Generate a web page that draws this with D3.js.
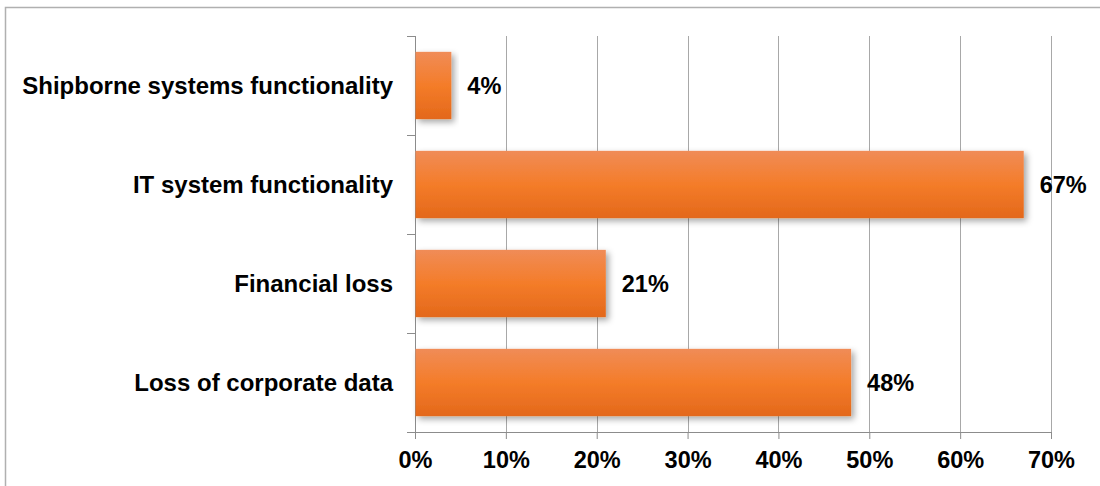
<!DOCTYPE html>
<meta charset="utf-8">
<style>
  body { margin: 0; background: #fff; }
  text { font-family: "Liberation Sans", Arial, sans-serif; font-weight: bold; fill: #000; }
</style>
<script src="https://d3js.org/d3.v7.min.js"></script>
<div id="chart"></div>
<script>

// data (top to bottom as drawn)
var categories = ["Shipborne systems functionality", "IT system functionality", "Financial loss", "Loss of corporate data"];
var values = [4, 67, 21, 48];
var tickValues = [0, 10, 20, 30, 40, 50, 60, 70];

var W = 1100, H = 486;
var margin = {top: 36, right: 49, bottom: 54, left: 415},
    width = W - margin.left - margin.right,
    height = H - margin.top - margin.bottom;

var svg = d3.select("#chart")
  .append("svg")
    .attr("width", W)
    .attr("height", H);

var defs = svg.append("defs");

// bar gradient, lighter on top
var grad = defs.append("linearGradient")
    .attr("id", "barGrad")
    .attr("x1", 0).attr("y1", 0).attr("x2", 0).attr("y2", 1);
grad.append("stop").attr("offset", "0%").attr("stop-color", "#f08c57");
grad.append("stop").attr("offset", "50%").attr("stop-color", "#f47c29");
grad.append("stop").attr("offset", "100%").attr("stop-color", "#e3681b");

// soft drop shadow
var shadow = defs.append("filter")
    .attr("id", "shadow")
    .attr("x", "-10%").attr("y", "-20%")
    .attr("width", "130%").attr("height", "150%");
shadow.append("feDropShadow")
    .attr("dx", 3).attr("dy", 3)
    .attr("stdDeviation", 3)
    .attr("flood-color", "#000")
    .attr("flood-opacity", 0.35);

// outer frame (only left and top visible)
svg.append("path")
    .attr("d", "M5.5," + H + "V7.5H" + W)
    .attr("fill", "none")
    .attr("stroke", "#b0b0b0")
    .attr("stroke-width", 1.5);

var g = svg.append("g")
    .attr("transform", "translate(" + margin.left + "," + margin.top + ")");

var x = d3.scaleLinear()
    .domain([0, 70])
    .range([0, width]);

var y = d3.scaleBand()
    .domain(categories)
    .range([0, height])
    .paddingInner(0.32)
    .paddingOuter(0.16);

// vertical gridlines
g.append("g")
  .selectAll("line")
  .data(tickValues.slice(1))
  .enter()
  .append("line")
    .attr("x1", function(d) { return Math.round(x(d)) + 0.5; })
    .attr("x2", function(d) { return Math.round(x(d)) + 0.5; })
    .attr("y1", 0)
    .attr("y2", height)
    .attr("stroke", "#a8a8a8")
    .attr("stroke-width", 1);

// x axis
var xAxis = g.append("g")
    .attr("transform", "translate(0," + height + ")")
    .call(d3.axisBottom(x)
      .tickValues(tickValues)
      .tickSize(7)
      .tickPadding(12)
      .tickFormat(function(d) { return d + "%"; }));
xAxis.select(".domain")
    .attr("d", "M-8,0.5H" + width);
xAxis.selectAll("path, line").attr("stroke", "#8c8c8c");
xAxis.selectAll("text")
    .style("font-size", "23.5px")
    .attr("fill", "#000");

// y axis: category boundaries as ticks
var bounds = d3.range(categories.length + 1).map(function(i) { return i * height / categories.length; });
var yAxis = g.append("g");
yAxis.append("line")
    .attr("x1", 0.5).attr("x2", 0.5)
    .attr("y1", 0).attr("y2", height)
    .attr("stroke", "#8c8c8c");
yAxis.selectAll(".bt")
  .data(bounds)
  .enter()
  .append("line")
    .attr("class", "bt")
    .attr("x1", -8).attr("x2", 0)
    .attr("y1", function(d) { return Math.round(d) + 0.5; })
    .attr("y2", function(d) { return Math.round(d) + 0.5; })
    .attr("stroke", "#8c8c8c");

// category labels
g.selectAll(".cat")
  .data(categories)
  .enter()
  .append("text")
    .attr("class", "cat")
    .attr("x", -22)
    .attr("y", function(d) { return y(d) + y.bandwidth() / 2; })
    .attr("dy", "0.35em")
    .attr("text-anchor", "end")
    .style("font-size", "24px")
    .text(function(d) { return d; });

// bars
g.selectAll(".bar")
  .data(values)
  .enter()
  .append("rect")
    .attr("class", "bar")
    .attr("x", x(0) + 0.5)
    .attr("y", function(d, i) { return y(categories[i]); })
    .attr("width", function(d) { return x(d) - x(0) - 0.5; })
    .attr("height", y.bandwidth())
    .attr("fill", "url(#barGrad)")
    .attr("filter", "url(#shadow)");

// value labels
g.selectAll(".val")
  .data(values)
  .enter()
  .append("text")
    .attr("class", "val")
    .attr("x", function(d) { return x(d) + 16; })
    .attr("y", function(d, i) { return y(categories[i]) + y.bandwidth() / 2; })
    .attr("dy", "0.35em")
    .style("font-size", "23.5px")
    .text(function(d) { return d + "%"; });

</script>
